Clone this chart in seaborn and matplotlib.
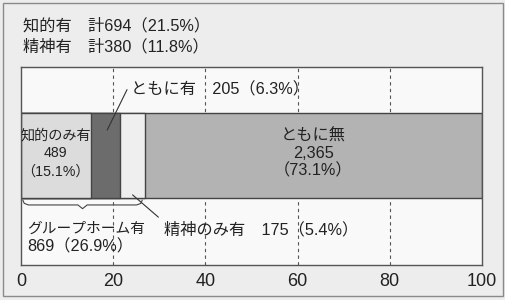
import matplotlib
matplotlib.use("Agg")
import matplotlib.pyplot as plt
import seaborn as sns
import numpy as np
from matplotlib.patches import Rectangle

# ---- data ----
categories = ["知的のみ有", "ともに有", "精神のみ有", "ともに無"]
counts = [489, 205, 175, 2365]
percents = [15.1, 6.3, 5.4, 73.1]
colors = ["#dcdcdc", "#6c6c6c", "#efefef", "#b3b3b3"]
ticks = [0, 20, 40, 60, 80, 100]
total_chiteki = (694, 21.5)
total_seishin = (380, 11.8)
gh_total = (869, 26.9)

sns.set_theme(style="white")
plt.rcParams["font.family"] = ["Liberation Sans", "Noto Sans CJK JP", "DejaVu Sans"]

W, H = 506, 300
fig = plt.figure(figsize=(W / 100, H / 100), dpi=100)
fig.patch.set_facecolor("#ededed")

def px(x, y):
    return x / W, 1 - y / H

ax_left, ax_right, ax_top, ax_bot = 21, 482, 67, 265
ax = fig.add_axes([ax_left / W, 1 - ax_bot / H, (ax_right - ax_left) / W, (ax_bot - ax_top) / H])
ax.set_facecolor("#f9f9f9")

cum = np.cumsum(percents)
cum[-1] = 100.0
for i in reversed(range(len(categories))):
    sns.barplot(x=[cum[i]], y=["all"], color=colors[i], edgecolor="#444444",
                linewidth=1.0, width=0.8, ax=ax, saturation=1, orient="h", zorder=2)

ax.set_xlim(0, 100)
ax.set_ylim(1.03, -0.833)
ax.set_xticks(ticks)
ax.set_xticklabels([str(t) for t in ticks], fontsize=13, color="#222222")
ax.tick_params(axis="x", length=0, pad=6)
ax.set_yticks([])
ax.set_xlabel("")
ax.set_ylabel("")
for t in ticks[1:-1]:
    ax.axvline(t, color="#555555", lw=0.8, ls=(0, (3, 3)), zorder=1)
for s in ax.spines.values():
    s.set_color("#555555")
    s.set_linewidth(1.0)

fs = 11.7
tc = "#222222"
# header texts
fig.text(*px(23, 26), f"知的有　計{total_chiteki[0]}（{total_chiteki[1]}%）",
         fontsize=fs, color=tc, va="center", ha="left")
fig.text(*px(23, 47), f"精神有　計{total_seishin[0]}（{total_seishin[1]}%）",
         fontsize=fs, color=tc, va="center", ha="left")

# segment labels
starts = np.concatenate([[0], cum[:-1]])
mid0 = starts[0] + percents[0] / 2
ax.text(mid0, -0.02, f"{categories[0]}\n{counts[0]}\n（{percents[0]}%）",
        ha="center", va="center", fontsize=10.2, color=tc, linespacing=1.35, zorder=5)
mid3 = starts[3] + percents[3] / 2
ax.text(mid3, -0.02, f"{categories[3]}\n{counts[3]:,}\n（{percents[3]}%）",
        ha="center", va="center", fontsize=fs, color=tc, linespacing=1.15, zorder=5)

# ともに有 callout
fig.text(*px(131, 90), f"{categories[1]}　{counts[1]}（{percents[1]}%）",
         fontsize=fs, color=tc, va="center", ha="left")
ax.plot([18.7, 23.0], [-0.24, -0.62], color="#333333", lw=0.8, zorder=6, clip_on=False)

# 精神のみ有 callout
fig.text(*px(164, 230), f"{categories[2]}　{counts[2]}（{percents[2]}%）",
         fontsize=fs, color=tc, va="center", ha="left")
ax.plot([24.2, 29.8], [0.37, 0.58], color="#333333", lw=0.8, zorder=6, clip_on=False)

# brace for group home
x0, x1 = 0.4, gh_total[1] - 0.6
xm = (x0 + x1) / 2
bx = [x0, x0 + 0.3, x0 + 1.2, xm - 1.0, xm, xm + 1.0, x1 - 1.2, x1 - 0.3, x1]
by = [0.42, 0.45, 0.465, 0.465, 0.5, 0.465, 0.465, 0.45, 0.42]
ax.plot(bx, by, color="#444444", lw=0.8, zorder=6, clip_on=False)

fig.text(*px(27, 229), "グループホーム有", fontsize=10.6, color=tc, va="center", ha="left")
fig.text(*px(27, 247), f"{gh_total[0]}（{gh_total[1]}%）", fontsize=fs, color=tc, va="center", ha="left")

# outer frame
fig.patches.append(Rectangle((3 / W, 4 / H), 500 / W, 293 / H, transform=fig.transFigure,
                             fill=False, edgecolor="#8a8a8a", lw=1.0))

fig.savefig("out.png", dpi=100, facecolor=fig.get_facecolor())
